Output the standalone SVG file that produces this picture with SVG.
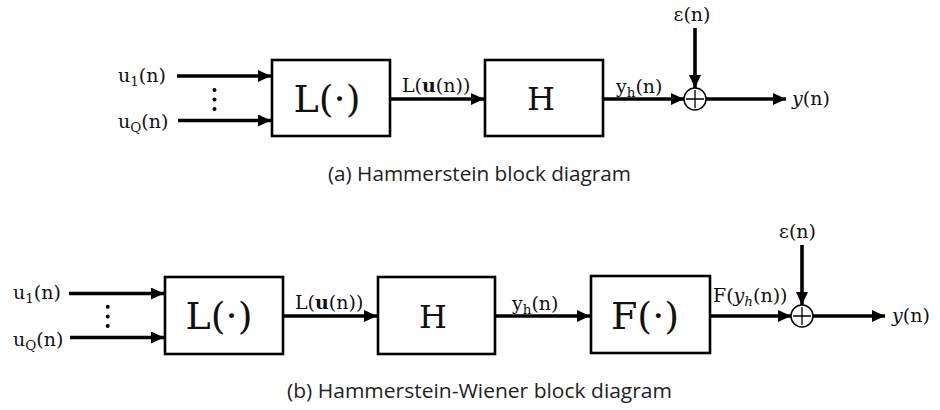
<svg xmlns="http://www.w3.org/2000/svg" width="940" height="410" viewBox="0 0 940 410">
<defs>
<marker id="ah" markerUnits="userSpaceOnUse" markerWidth="14" markerHeight="12" refX="13" refY="6" orient="auto">
<path d="M0,0 L13,6 L0,12 z" fill="#000"/>
</marker>
<style>
.bg{fill:#fff}
.box{fill:#fff;stroke:#000;stroke-width:2.6}
.sum{fill:#fff;stroke:#000;stroke-width:1.5}
.plus{stroke:#000;stroke-width:1.3;fill:none}
.ar{stroke:#000;stroke-width:3.6;fill:none;marker-end:url(#ah)}
.m{font-family:"DejaVu Serif","Liberation Serif",serif;font-size:19px;fill:#111}
.big{font-family:"DejaVu Serif","Liberation Serif",serif;font-size:38px;fill:#111;text-anchor:middle}
.hb{font-family:"DejaVu Serif","Liberation Serif",serif;font-size:32px;fill:#111;text-anchor:middle}
.sub{font-size:13.5px}
.cap{font-family:"Open Sans","Noto Sans","Liberation Sans",sans-serif;font-size:19.5px;fill:#222}
.dot{fill:#000}
</style>
</defs>
<rect class="bg" x="0" y="0" width="940" height="410"/>

<g id="connectors">
<line class="ar" x1="177" y1="76" x2="271" y2="76"/>
<line class="ar" x1="178" y1="120.5" x2="271" y2="120.5"/>
<line class="ar" x1="391" y1="99" x2="484" y2="99"/>
<line class="ar" x1="603" y1="99" x2="684" y2="99"/>
<line class="ar" x1="695" y1="28" x2="695" y2="88"/>
<line class="ar" x1="706" y1="99" x2="786" y2="99"/>

<line class="ar" x1="69" y1="293.5" x2="164" y2="293.5"/>
<line class="ar" x1="70" y1="337.5" x2="164" y2="337.5"/>
<line class="ar" x1="284" y1="316" x2="377" y2="316"/>
<line class="ar" x1="496" y1="316" x2="590" y2="316"/>
<line class="ar" x1="711" y1="316" x2="791" y2="316"/>
<line class="ar" x1="802" y1="245" x2="802" y2="305"/>
<line class="ar" x1="813" y1="316" x2="885" y2="316"/>
</g>

<!-- (a) Hammerstein -->
<g id="a-inputs">
<text class="m" x="118" y="81.5">u<tspan class="sub" dy="4">1</tspan><tspan dy="-4">(n)</tspan></text>
<text class="m" x="118" y="128">u<tspan class="sub" dy="4">Q</tspan><tspan dy="-4">(n)</tspan></text>
<circle class="dot" cx="214.5" cy="90" r="2"/>
<circle class="dot" cx="214.5" cy="99.5" r="2"/>
<circle class="dot" cx="214.5" cy="109" r="2"/>
</g>
<g id="a-L">
<rect class="box" x="272" y="60" width="118" height="76"/>
<text class="big" x="327" y="112">L(·)</text>
</g>
<text class="m" x="402" y="91.5">L(<tspan font-weight="bold">u</tspan>(n))</text>
<g id="a-H">
<rect class="box" x="485" y="60" width="118" height="76"/>
<text class="hb" x="541" y="110">H</text>
</g>
<text class="m" x="616" y="93">y<tspan class="sub" dy="4">h</tspan><tspan dy="-4">(n)</tspan></text>
<g id="a-sum">
<circle class="sum" cx="695" cy="99" r="11"/>
<path class="plus" d="M686,99 H704 M695,90 V108"/>
</g>
<text class="m" x="692" y="21" text-anchor="middle">ε(n)</text>
<text class="m" x="792" y="105"><tspan font-style="italic">y</tspan>(n)</text>
<text class="cap" x="328" y="181" textLength="303" lengthAdjust="spacingAndGlyphs">(a) Hammerstein block diagram</text>

<!-- (b) Hammerstein-Wiener -->
<g id="b-inputs">
<text class="m" x="13" y="299">u<tspan class="sub" dy="4">1</tspan><tspan dy="-4">(n)</tspan></text>
<text class="m" x="13" y="345.5">u<tspan class="sub" dy="4">Q</tspan><tspan dy="-4">(n)</tspan></text>
<circle class="dot" cx="107.7" cy="306.7" r="2"/>
<circle class="dot" cx="107.7" cy="316.4" r="2"/>
<circle class="dot" cx="107.7" cy="326" r="2"/>
</g>
<g id="b-L">
<rect class="box" x="165" y="277" width="118" height="77"/>
<text class="big" x="219" y="329">L(·)</text>
</g>
<text class="m" x="295" y="308.5">L(<tspan font-weight="bold">u</tspan>(n))</text>
<g id="b-H">
<rect class="box" x="378" y="277" width="117" height="77"/>
<text class="hb" x="433" y="328">H</text>
</g>
<text class="m" x="512" y="310">y<tspan class="sub" dy="4">h</tspan><tspan dy="-4">(n)</tspan></text>
<g id="b-F">
<rect class="box" x="591" y="276" width="119" height="77"/>
<text class="big" x="645" y="328.5">F(·)</text>
</g>
<text class="m" x="713" y="302">F(<tspan font-style="italic">y</tspan><tspan class="sub" font-style="italic" dy="4">h</tspan><tspan dy="-4">(n))</tspan></text>
<g id="b-sum">
<circle class="sum" cx="802" cy="316" r="11"/>
<path class="plus" d="M793,316 H811 M802,307 V325"/>
</g>
<text class="m" x="797.5" y="238" text-anchor="middle">ε(n)</text>
<text class="m" x="892" y="322"><tspan font-style="italic">y</tspan>(n)</text>
<text class="cap" x="287" y="398" textLength="385" lengthAdjust="spacingAndGlyphs">(b) Hammerstein-Wiener block diagram</text>
</svg>
